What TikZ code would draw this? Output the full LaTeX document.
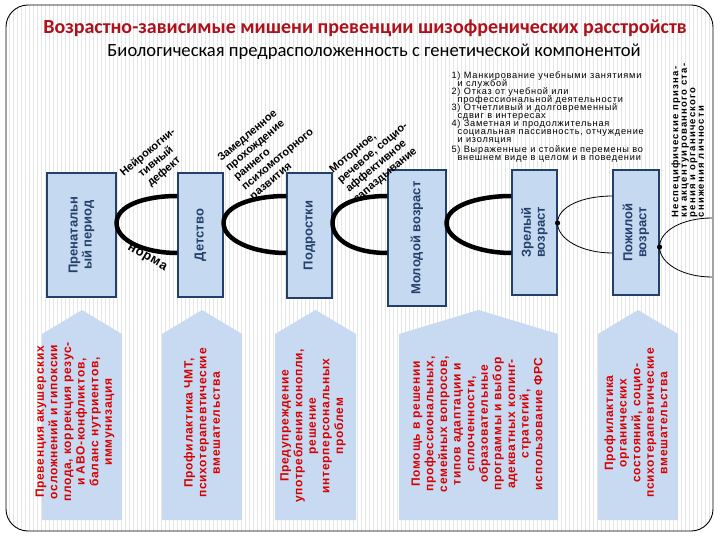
\documentclass[tikz,border=0pt]{standalone}
\usepackage{fontspec}
\setmainfont{Liberation Sans}
\newfontfamily\carl{Carlito}
\usetikzlibrary{calc}
\setlength{\lineskiplimit}{-6pt}

\begin{document}
\begin{tikzpicture}[x=1pt,y=-1pt,font=\fontsize{11}{13}\selectfont,
agebox/.style={draw=navy,line width=1.1pt,fill=boxblue,inner sep=0pt},
agelbl/.style={rotate=90,text=navy,align=center,font=\bfseries\fontsize{13}{14}\selectfont},
curv/.style={line width=4.5pt},
fine/.style={line width=.8pt},
tilt/.style={align=center,font=\bfseries\fontsize{11}{12.5}\selectfont},
penta/.style={fill=pentblue},
preven/.style={rotate=90,text=redtx,align=center,font=\bfseries\fontsize{12}{13.6}\selectfont\addfontfeature{LetterSpace=6}}]
\definecolor{navy}{HTML}{24406A}\definecolor{boxblue}{HTML}{C5D9F1}\definecolor{pentblue}{HTML}{C8DAF1}\definecolor{redtx}{HTML}{D60000}\definecolor{ttlred}{HTML}{B0101A}\definecolor{stripe}{HTML}{E6E6E6}
\useasboundingbox (0,0) rectangle (720,540);
% background with stripes and frame
\fill[white] (0,0) rectangle (720,540);
\begin{scope}\clip[rounded corners=22pt] (6,5) rectangle (713,531);\foreach \x in {9,13,...,712}{\draw[stripe,line width=.6pt] (\x,0)--(\x,540);}\end{scope}
\draw[line width=.9pt,rounded corners=22pt] (6,5) rectangle (713,531);
\node[text=ttlred,font=\carl\bfseries\fontsize{20}{24}\selectfont] (title) at (365,28) {Возрастно-зависимые мишени превенции шизофренических расстройств};
\node[font=\carl\fontsize{18.6}{22}\selectfont] (subtitle) at (374,52) {Биологическая предрасположенность с генетической компонентой};
% age periods
\node[agebox,minimum width=69pt,minimum height=124pt] (pren) at (81.5,235) {};\node[agelbl] at (pren) {Пренатальн\\ый период};
\node[agebox,minimum width=45pt,minimum height=124pt] (deti) at (200.5,235) {};\node[agelbl] at (deti) {Детство};
\node[agebox,minimum width=45pt,minimum height=125pt] (podr) at (309.5,235.5) {};\node[agelbl] at (podr) {Подростки};
\node[agebox,minimum width=58pt,minimum height=136pt] (mol) at (417,238) {};\node[agelbl] at (mol) {Молодой возраст};
\node[agebox,minimum width=45pt,minimum height=125pt] (zrel) at (534.5,232.5) {};\node[agelbl] at (zrel) {Зрелый\\возраст};
\node[agebox,minimum width=46pt,minimum height=125pt] (pozh) at (636,232.5) {};\node[agelbl] at (pozh) {Пожилой\\возраст};
% forks between periods
\coordinate (ytop) at (0,196);\coordinate (ymid) at (0,223);\coordinate (ybot) at (0,253);\coordinate (ymid2) at (0,247);
\coordinate (edgeU) at (712,218);\coordinate (edgeL) at (712,277);
\foreach \a/\b in {pren/deti,deti/podr,podr/mol,mol/zrel}{\draw[curv] (\b.west |- ytop) .. controls +(-34,0) and +(0,-17) .. (\a.east |- ymid) .. controls +(0,17) and +(-34,0) .. (\b.west |- ybot);}
\draw[fine] (pozh.west |- ytop) .. controls +(-31,0) and +(0,-16) .. (zrel.east |- ymid) .. controls +(0,16) and +(-31,0) .. (pozh.west |- ybot);\fill (zrel.east |- ymid) circle (2.6pt);
\draw[fine] (edgeU) .. controls +(-30,0) and +(0,-16) .. (pozh.east |- ymid2) .. controls +(0,16) and +(-30,0) .. (edgeL);\fill (pozh.east |- ymid2) circle (2.6pt);
% outcome labels
\node[tilt,rotate=40] (neuro) at (156,162) {Нейрокогни-\\тивный\\дефект};
\node[tilt,rotate=-30,font=\bfseries\fontsize{13}{15}\selectfont\addfontfeature{LetterSpace=6}] (norma) at (147,258) {норма};
\node[tilt,rotate=40,align=left] (zamed) at (270,150) {Замедленное\\прохождение\\раннего\\психомоторного\\развития};
\node[tilt,rotate=40,align=left] (motor) at (377,158) {Моторное,\\речевое, социо-\\аффективное\\запаздывание};
\node[anchor=north west,align=left,font=\fontsize{9.2}{8}\selectfont\addfontfeature{LetterSpace=8.5}] (signs) at (448,68) {1) Манкирование учебными занятиями\\\hspace*{6pt}и службой\\2) Отказ от учебной или\\\hspace*{6pt}профессиональной деятельности\\3) Отчетливый и долговременный\\\hspace*{6pt}сдвиг в интересах\\4) Заметная и продолжительная\\\hspace*{6pt}социальная пассивность, отчуждение\\\hspace*{6pt}и изоляция\\[2pt]5) Выраженные и стойкие перемены во\\\hspace*{6pt}внешнем виде в целом и в поведении};
\node[rotate=90,anchor=north west,align=left,font=\bfseries\fontsize{9.5}{8.5}\selectfont\addfontfeature{LetterSpace=13}] (aging) at (668,221) {Неспецифические призна-\\ки акцентуированного ста-\\рения и органического\\снижения личности};
% prevention targets
\foreach \l/\r in {42/122,162/242,275/356,399/558,598/678}{\fill[penta] (\l,520) -- (\l,334) -- ({(\l+\r)/2},310) -- (\r,334) -- (\r,520) -- cycle;}
\node[preven] (p1) at (75,422) {Превенция акушерских\\осложнений и гипоксии\\плода, коррекция резус-\\и АВО-конфликтов,\\баланс нутриентов,\\иммунизация};
\node[preven] (p2) at (202,423) {Профилактика ЧМТ,\\психотерапевтические\\вмешательства};
\node[preven] (p3) at (313,426) {Предупреждение\\употребления конопли,\\решение\\интерперсональных\\проблем};
\node[preven] (p4) at (477,424) {Помощь в решении\\профессиональных,\\семейных вопросов,\\типов адаптации и\\сплоченности,\\образовательные\\программы и выбор\\адекватных копинг-\\стратегий,\\использование ФРС};
\node[preven] (p5) at (636,423) {Профилактика\\органических\\состояний, социо-\\психотерапевтические\\вмешательства};
\end{tikzpicture}
\end{document}
